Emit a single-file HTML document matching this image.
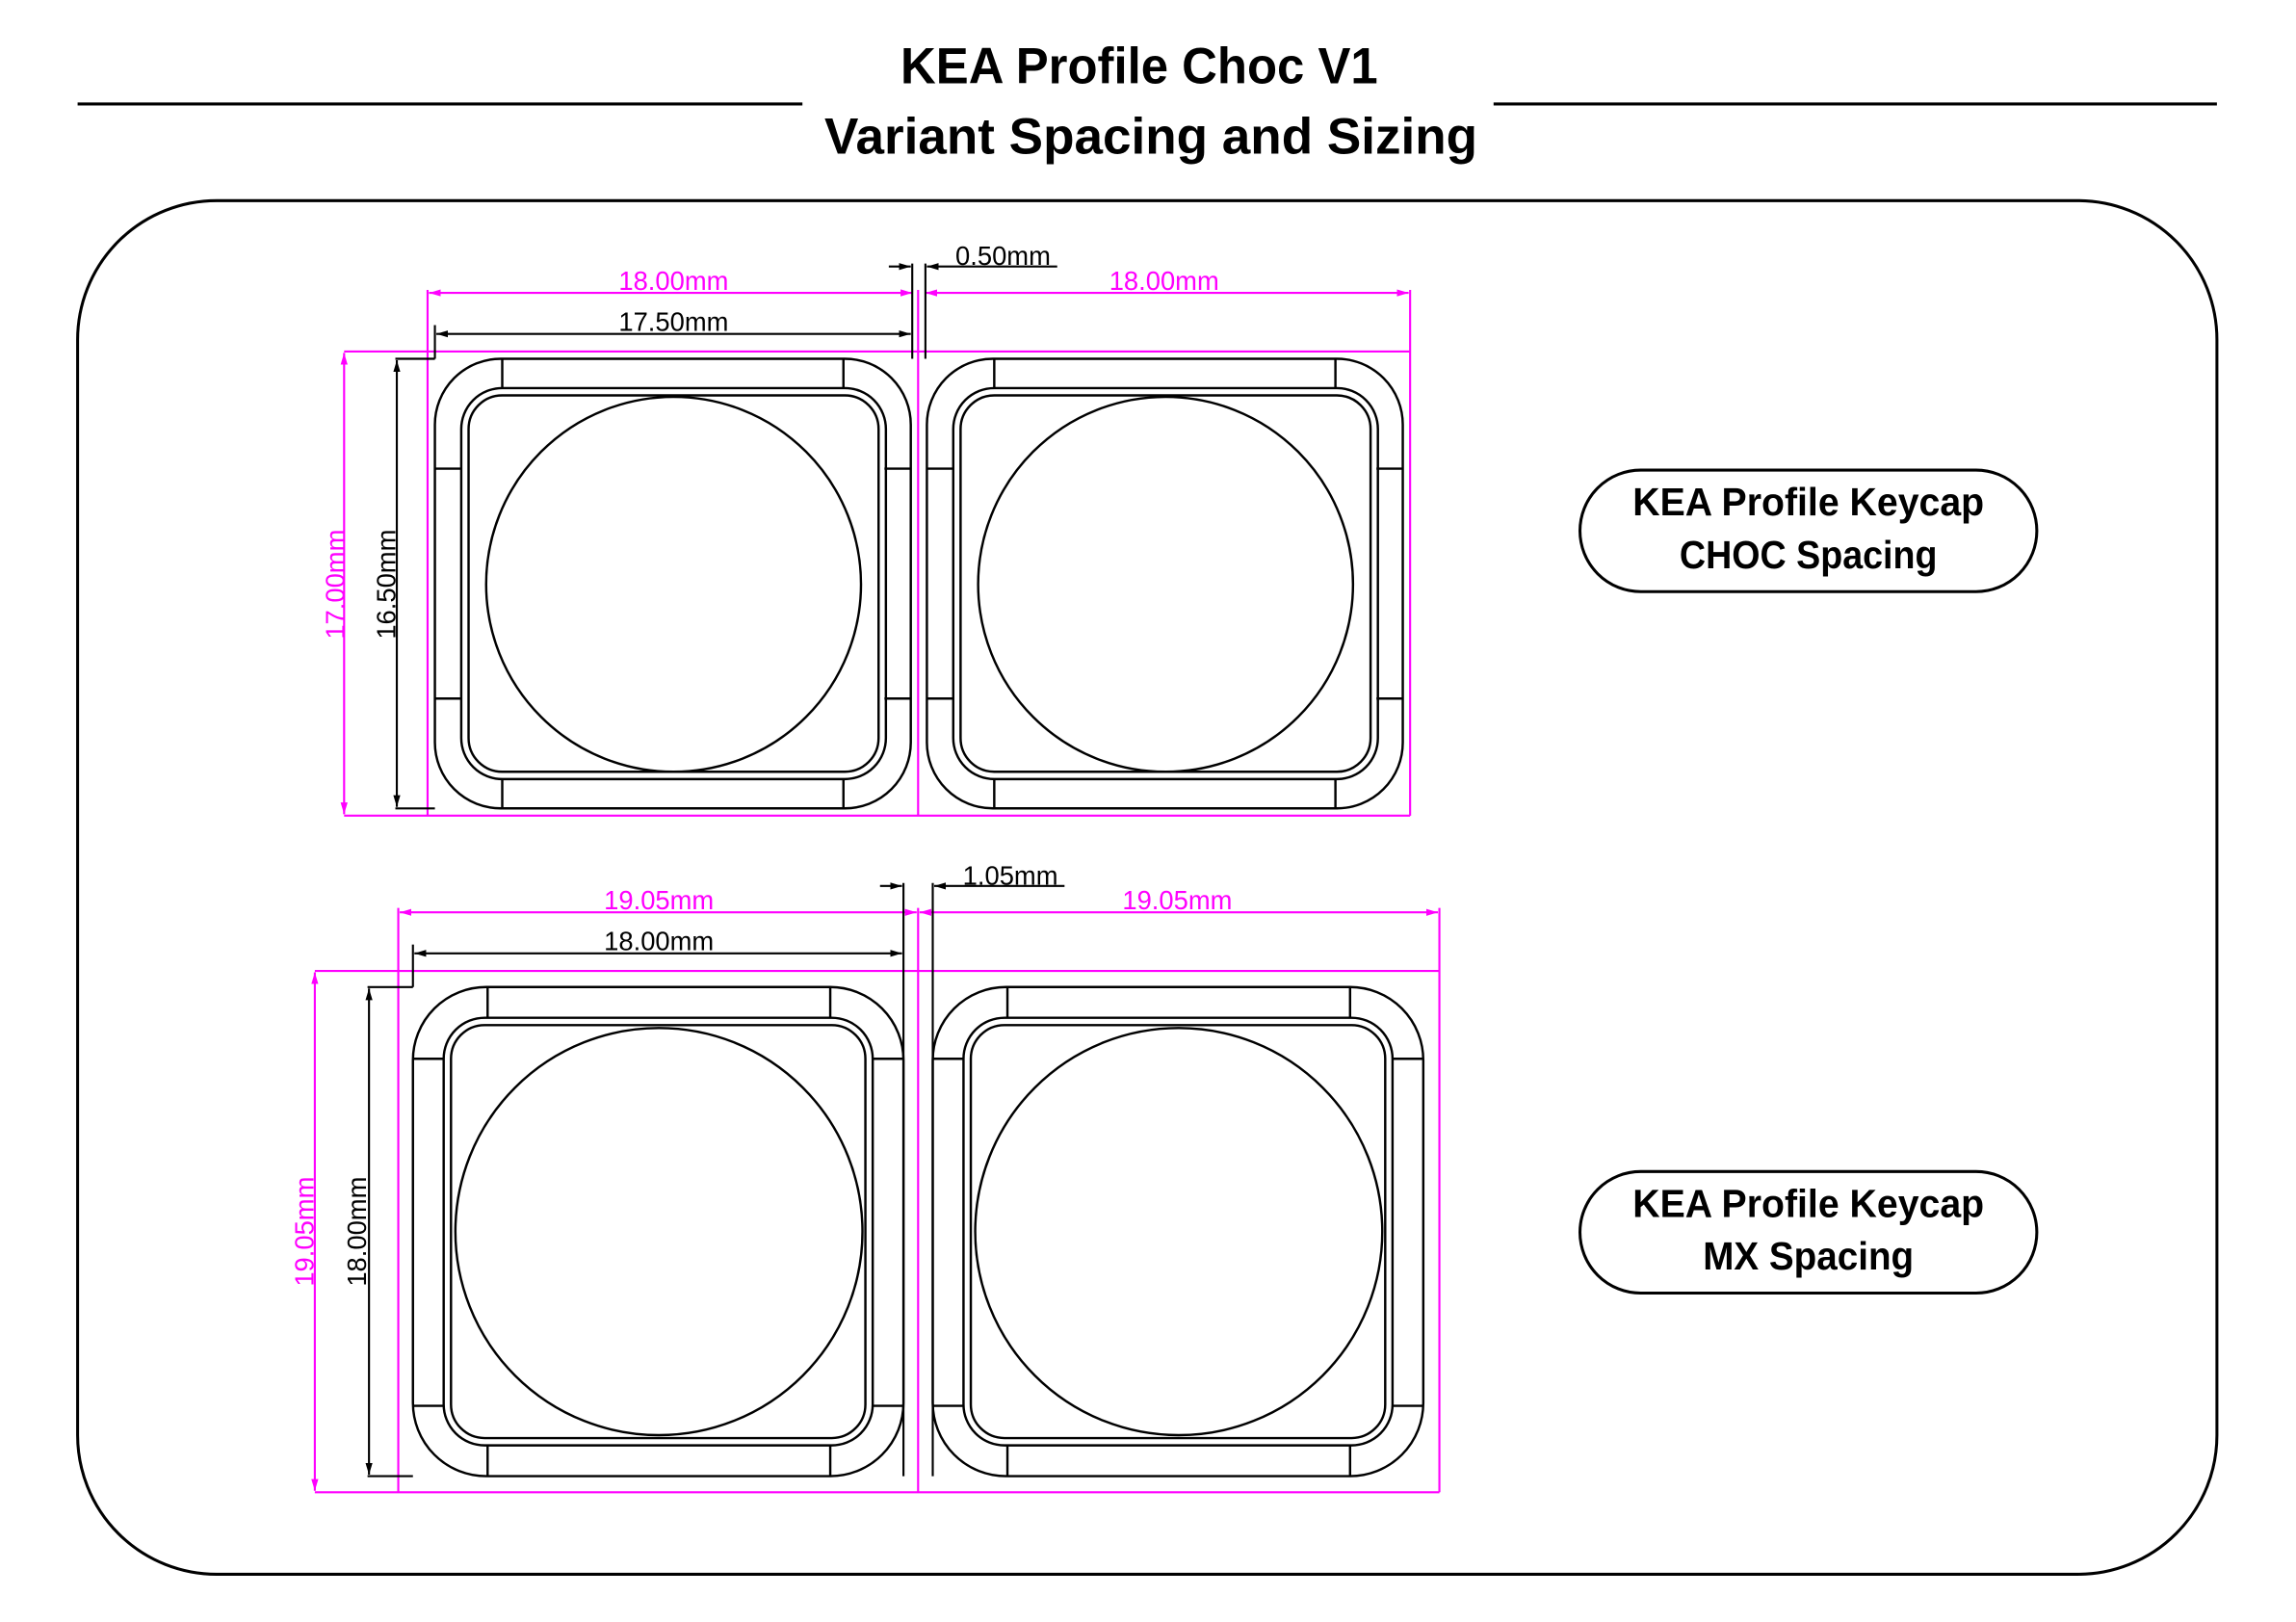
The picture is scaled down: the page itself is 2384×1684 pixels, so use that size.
<!DOCTYPE html>
<html><head><meta charset="utf-8"><style>
html,body{margin:0;padding:0;background:#fff;}
svg{display:block;}
.k{fill:none;stroke:#000;stroke-width:1.6}
.m{stroke:#ff00ff;stroke-width:1.4;fill:none}
.b{stroke:#000;stroke-width:1.4;fill:none}
.dt{font-family:"Liberation Sans",sans-serif;font-size:18px;}
.tt{font-family:"Liberation Sans",sans-serif;font-weight:bold;}
</style></head><body>
<svg width="2384" height="1684" viewBox="0 0 1568 1107.6" xmlns="http://www.w3.org/2000/svg">
<defs>
<marker id="ab" viewBox="0 0 10 10" refX="10" refY="5" markerWidth="8" markerHeight="8" orient="auto-start-reverse" markerUnits="userSpaceOnUse"><path d="M0,2 L10,5 L0,8z" fill="#000"/></marker>
<marker id="am" viewBox="0 0 10 10" refX="10" refY="5" markerWidth="8" markerHeight="8" orient="auto-start-reverse" markerUnits="userSpaceOnUse"><path d="M0,2 L10,5 L0,8z" fill="#ff00ff"/></marker>
<g id="choc" class="k">
<rect x="0" y="0" width="325" height="307" rx="45"/>
<line x1="46" y1="0" x2="46" y2="20"/><line x1="279" y1="0" x2="279" y2="20"/>
<line x1="46" y1="287" x2="46" y2="307"/><line x1="279" y1="287" x2="279" y2="307"/>
<rect x="18" y="20" width="290" height="267" rx="28"/>
<rect x="23" y="25" width="280" height="257" rx="23"/>
<line x1="0" y1="75" x2="18" y2="75"/><line x1="0" y1="232" x2="18" y2="232"/>
<line x1="307" y1="75" x2="325" y2="75"/><line x1="307" y1="232" x2="325" y2="232"/>
<circle cx="163" cy="154" r="128"/>
</g>
<g id="mx" class="k">
<rect x="0" y="0" width="335" height="334" rx="50"/>
<line x1="51" y1="0" x2="51" y2="21"/><line x1="285" y1="0" x2="285" y2="21"/>
<line x1="51" y1="313" x2="51" y2="334"/><line x1="285" y1="313" x2="285" y2="334"/>
<rect x="21" y="21" width="293" height="292" rx="28"/>
<rect x="26" y="26" width="283" height="282" rx="23"/>
<line x1="0" y1="49" x2="21" y2="49"/><line x1="0" y1="286" x2="21" y2="286"/>
<line x1="314" y1="49" x2="335" y2="49"/><line x1="314" y1="286" x2="335" y2="286"/>
<circle cx="168" cy="167" r="139"/>
</g>
</defs>

<!-- title -->
<text class="tt" x="778" y="57" font-size="35" text-anchor="middle" textLength="326" lengthAdjust="spacingAndGlyphs">KEA Profile Choc V1</text>
<text class="tt" x="786" y="105" font-size="35" text-anchor="middle" textLength="446" lengthAdjust="spacingAndGlyphs">Variant Spacing and Sizing</text>
<line x1="53" y1="71" x2="548" y2="71" stroke="#000" stroke-width="2"/>
<line x1="1020" y1="71" x2="1514" y2="71" stroke="#000" stroke-width="2"/>
<rect x="53" y="137" width="1461" height="938" rx="95" fill="none" stroke="#000" stroke-width="2"/>

<!-- CHOC -->
<use href="#choc" x="297" y="245"/>
<use href="#choc" x="633" y="245"/>
<g class="m">
<line x1="235" y1="240" x2="963" y2="240"/>
<line x1="235" y1="557" x2="963" y2="557"/>
<line x1="292" y1="198" x2="292" y2="557"/>
<line x1="627" y1="198" x2="627" y2="557"/>
<line x1="963" y1="198" x2="963" y2="557"/>
<line x1="293" y1="200" x2="623" y2="200" marker-start="url(#am)" marker-end="url(#am)"/>
<line x1="632" y1="200" x2="962" y2="200" marker-start="url(#am)" marker-end="url(#am)"/>
<line x1="235" y1="241" x2="235" y2="556" marker-start="url(#am)" marker-end="url(#am)"/>
</g>
<g class="b">
<line x1="297" y1="222" x2="297" y2="245"/>
<line x1="623" y1="180" x2="623" y2="245"/>
<line x1="632" y1="180" x2="632" y2="245"/>
<line x1="298" y1="228" x2="622" y2="228" marker-start="url(#ab)" marker-end="url(#ab)"/>
<line x1="607" y1="182" x2="622" y2="182" marker-end="url(#ab)"/>
<line x1="722" y1="182" x2="633" y2="182" marker-end="url(#ab)"/>
<line x1="270" y1="245" x2="297" y2="245"/>
<line x1="270" y1="552" x2="297" y2="552"/>
<line x1="271" y1="246" x2="271" y2="551" marker-start="url(#ab)" marker-end="url(#ab)"/>
</g>
<text class="dt" x="460" y="198" fill="#ff00ff" text-anchor="middle">18.00mm</text>
<text class="dt" x="795" y="198" fill="#ff00ff" text-anchor="middle">18.00mm</text>
<text class="dt" x="460" y="226" text-anchor="middle">17.50mm</text>
<text class="dt" x="685" y="181" text-anchor="middle">0.50mm</text>
<text class="dt" transform="translate(235,399) rotate(-90)" fill="#ff00ff" text-anchor="middle">17.00mm</text>
<text class="dt" transform="translate(270,399) rotate(-90)" text-anchor="middle">16.50mm</text>

<!-- MX -->
<use href="#mx" x="282" y="674"/>
<use href="#mx" x="637" y="674"/>
<g class="m">
<line x1="215" y1="663" x2="983" y2="663"/>
<line x1="215" y1="1019" x2="983" y2="1019"/>
<line x1="272" y1="620" x2="272" y2="1019"/>
<line x1="627" y1="620" x2="627" y2="1019"/>
<line x1="983" y1="620" x2="983" y2="1019"/>
<line x1="273" y1="623" x2="626" y2="623" marker-start="url(#am)" marker-end="url(#am)"/>
<line x1="628" y1="623" x2="982" y2="623" marker-start="url(#am)" marker-end="url(#am)"/>
<line x1="215" y1="664" x2="215" y2="1018" marker-start="url(#am)" marker-end="url(#am)"/>
</g>
<g class="b">
<line x1="282" y1="645" x2="282" y2="674"/>
<line x1="617" y1="603" x2="617" y2="1008"/>
<line x1="637" y1="603" x2="637" y2="1008"/>
<line x1="283" y1="651" x2="616" y2="651" marker-start="url(#ab)" marker-end="url(#ab)"/>
<line x1="601" y1="605" x2="616" y2="605" marker-end="url(#ab)"/>
<line x1="727" y1="605" x2="638" y2="605" marker-end="url(#ab)"/>
<line x1="251" y1="674" x2="282" y2="674"/>
<line x1="251" y1="1008" x2="282" y2="1008"/>
<line x1="252" y1="675" x2="252" y2="1007" marker-start="url(#ab)" marker-end="url(#ab)"/>
</g>
<text class="dt" x="450" y="621" fill="#ff00ff" text-anchor="middle">19.05mm</text>
<text class="dt" x="804" y="621" fill="#ff00ff" text-anchor="middle">19.05mm</text>
<text class="dt" x="450" y="649" text-anchor="middle">18.00mm</text>
<text class="dt" x="690" y="604" text-anchor="middle">1.05mm</text>
<text class="dt" transform="translate(214,841) rotate(-90)" fill="#ff00ff" text-anchor="middle">19.05mm</text>
<text class="dt" transform="translate(250,841) rotate(-90)" text-anchor="middle">18.00mm</text>

<!-- labels -->
<rect x="1079" y="321" width="312" height="83" rx="41.5" fill="none" stroke="#000" stroke-width="2"/>
<text class="tt" x="1235" y="352" font-size="27" text-anchor="middle" textLength="240" lengthAdjust="spacingAndGlyphs">KEA Profile Keycap</text>
<text class="tt" x="1235" y="388" font-size="27" text-anchor="middle" textLength="176" lengthAdjust="spacingAndGlyphs">CHOC Spacing</text>
<rect x="1079" y="800" width="312" height="83" rx="41.5" fill="none" stroke="#000" stroke-width="2"/>
<text class="tt" x="1235" y="831" font-size="27" text-anchor="middle" textLength="240" lengthAdjust="spacingAndGlyphs">KEA Profile Keycap</text>
<text class="tt" x="1235" y="867" font-size="27" text-anchor="middle" textLength="144" lengthAdjust="spacingAndGlyphs">MX Spacing</text>
</svg>
</body></html>
